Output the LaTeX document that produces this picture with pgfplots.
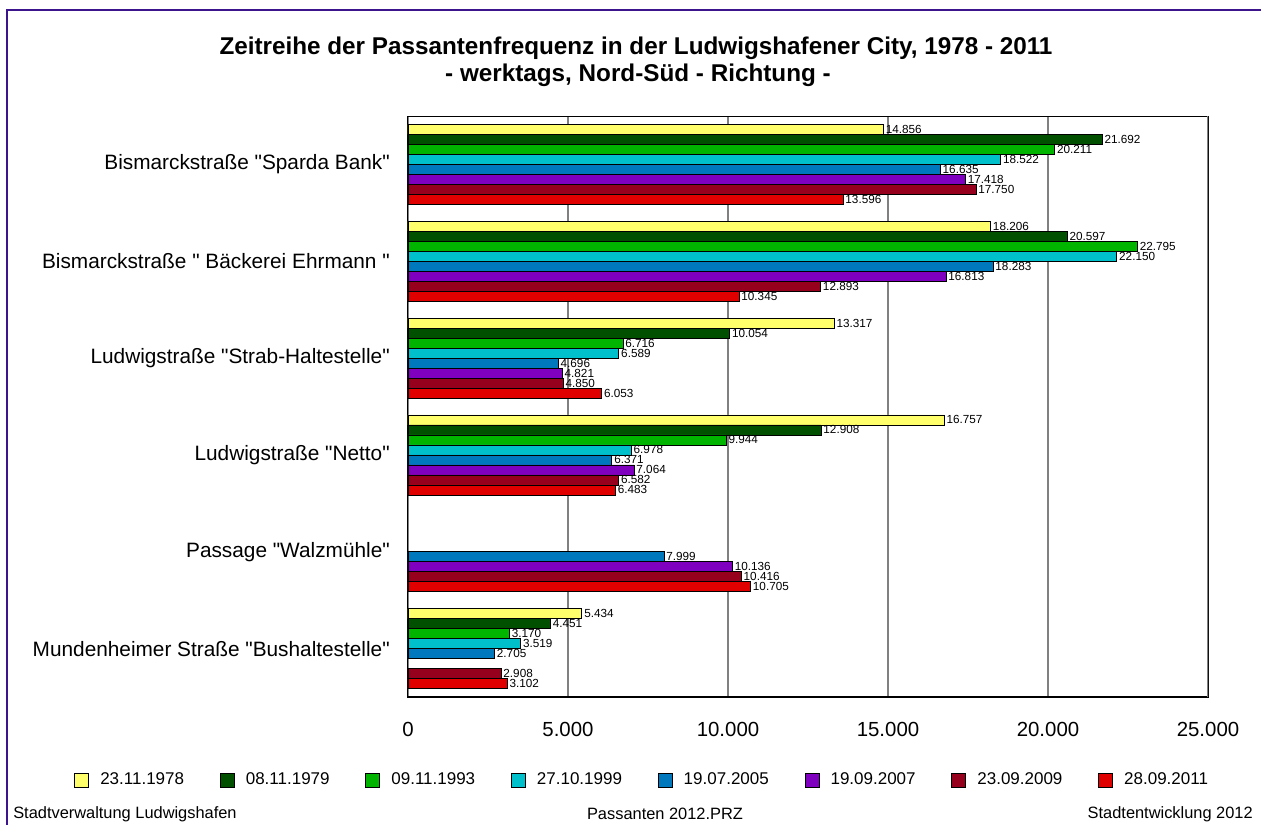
\documentclass[border=0pt]{standalone}
\usepackage{pgfplots}
\pgfplotsset{compat=1.18}
\usepackage{fontspec}
\setmainfont{Liberation Sans}[Ligatures=TeXOff]
\definecolor{c1}{RGB}{255,255,108}
\definecolor{c2}{RGB}{0,80,0}
\definecolor{c3}{RGB}{0,180,0}
\definecolor{c4}{RGB}{0,192,204}
\definecolor{c5}{RGB}{0,120,190}
\definecolor{c6}{RGB}{128,0,192}
\definecolor{c7}{RGB}{150,0,28}
\definecolor{c8}{RGB}{224,0,0}
\definecolor{frame}{RGB}{60,20,140}
\pgfplotsset{sq/.style={legend image code/.code={\draw[##1,draw=black,line width=0.75pt] (0pt,-5.25pt) rectangle (10.5pt,5.25pt);}}}
\begin{document}
\begin{tikzpicture}
\path[use as bounding box] (0,0) rectangle (945.75pt,618.75pt);
\draw[frame, line width=1.5pt] (5.25pt,0) -- (5.25pt,611.25pt) -- (945.75pt,611.25pt);
\node[font=\bfseries\fontsize{18.2}{22}\selectfont, anchor=base] at (477pt,577.5pt) {Zeitreihe der Passantenfrequenz in der Ludwigshafener City, 1978 - 2011};
\node[font=\bfseries\fontsize{18.2}{22}\selectfont, anchor=base] at (478.5pt,557.25pt) {- werktags, Nord-Süd - Richtung -};
\node[font=\fontsize{12.3}{14}\selectfont, anchor=base west, inner sep=0pt] at (9.75pt,4.5pt) {Stadtverwaltung Ludwigshafen};
\node[font=\fontsize{12.3}{14}\selectfont, anchor=base, inner sep=0pt] at (498.75pt,3.75pt) {Passanten 2012.PRZ};
\node[font=\fontsize{12.3}{14}\selectfont, anchor=base east, inner sep=0pt] at (939.75pt,4.5pt) {Stadtentwicklung 2012};
\begin{axis}[
  at={(306pt,96pt)}, anchor=south west,
  scale only axis, width=600pt, height=435.75pt,
  xbar, bar width=0.1033,
  xmin=0, xmax=25000, ymin=-0.5, ymax=5.5,
  xtick={0,5000,10000,15000,20000,25000},
  scaled x ticks=false,
  ytick={0,1,2,3,4,5},
  yticklabels={Mundenheimer Straße "Bushaltestelle", Passage "Walzmühle", Ludwigstraße "Netto", Ludwigstraße "Strab-Haltestelle", Bismarckstraße " Bäckerei Ehrmann ", Bismarckstraße "Sparda Bank"},
  major tick length=0pt,
  xmajorgrids, grid style={draw=gray, line width=0.9pt},
  axis line style={black, line width=0.75pt},
  /pgf/number format/.cd, 1000 sep={.}, assume math mode=true, /pgfplots/.cd,
  xticklabel style={font=\fontsize{15.3}{18}\selectfont, anchor=base, yshift=-29.25pt, inner sep=0pt},
  yticklabel style={font=\fontsize{15.6}{18}\selectfont, anchor=east, inner sep=0pt, xshift=-13.5pt},
  nodes near coords,
  nodes near coords style={font=\fontsize{8.8}{10}\selectfont, inner sep=1.5pt, text=black},
  legend columns=8,
  legend style={at={(-0.4175,-0.1429)}, anchor=west, draw=none, fill=none, inner sep=0pt,
    font=\fontsize{12.75}{15}\selectfont,
    nodes={inner sep=0pt},
    /tikz/every odd column/.append style={column sep=8.25pt},
    /tikz/every even column/.append style={column sep=26.8pt}},
  every axis plot/.append style={draw=black, line width=0.6pt},
]
\addplot[fill=c1, draw=black, bar shift=0.3616, sq] coordinates {(14856,5) (18206,4) (13317,3) (16757,2) (5434,0)};
\addplot[fill=c2, draw=black, bar shift=0.2583, sq] coordinates {(21692,5) (20597,4) (10054,3) (12908,2) (4451,0)};
\addplot[fill=c3, draw=black, bar shift=0.1550, sq] coordinates {(20211,5) (22795,4) (6716,3) (9944,2) (3170,0)};
\addplot[fill=c4, draw=black, bar shift=0.0517, sq] coordinates {(18522,5) (22150,4) (6589,3) (6978,2) (3519,0)};
\addplot[fill=c5, draw=black, bar shift=-0.0517, sq] coordinates {(16635,5) (18283,4) (4696,3) (6371,2) (7999,1) (2705,0)};
\addplot[fill=c6, draw=black, bar shift=-0.1550, sq] coordinates {(17418,5) (16813,4) (4821,3) (7064,2) (10136,1)};
\addplot[fill=c7, draw=black, bar shift=-0.2583, sq] coordinates {(17750,5) (12893,4) (4850,3) (6582,2) (10416,1) (2908,0)};
\addplot[fill=c8, draw=black, bar shift=-0.3616, sq] coordinates {(13596,5) (10345,4) (6053,3) (6483,2) (10705,1) (3102,0)};
\legend{23.11.1978, 08.11.1979, 09.11.1993, 27.10.1999, 19.07.2005, 19.09.2007, 23.09.2009, 28.09.2011}
\draw[black, line width=1.5pt] (rel axis cs:0,0) -- (rel axis cs:1,0);
\draw[gray, line width=1.5pt] (rel axis cs:1,0) -- (rel axis cs:1,1);
\end{axis}
\end{tikzpicture}
\end{document}
